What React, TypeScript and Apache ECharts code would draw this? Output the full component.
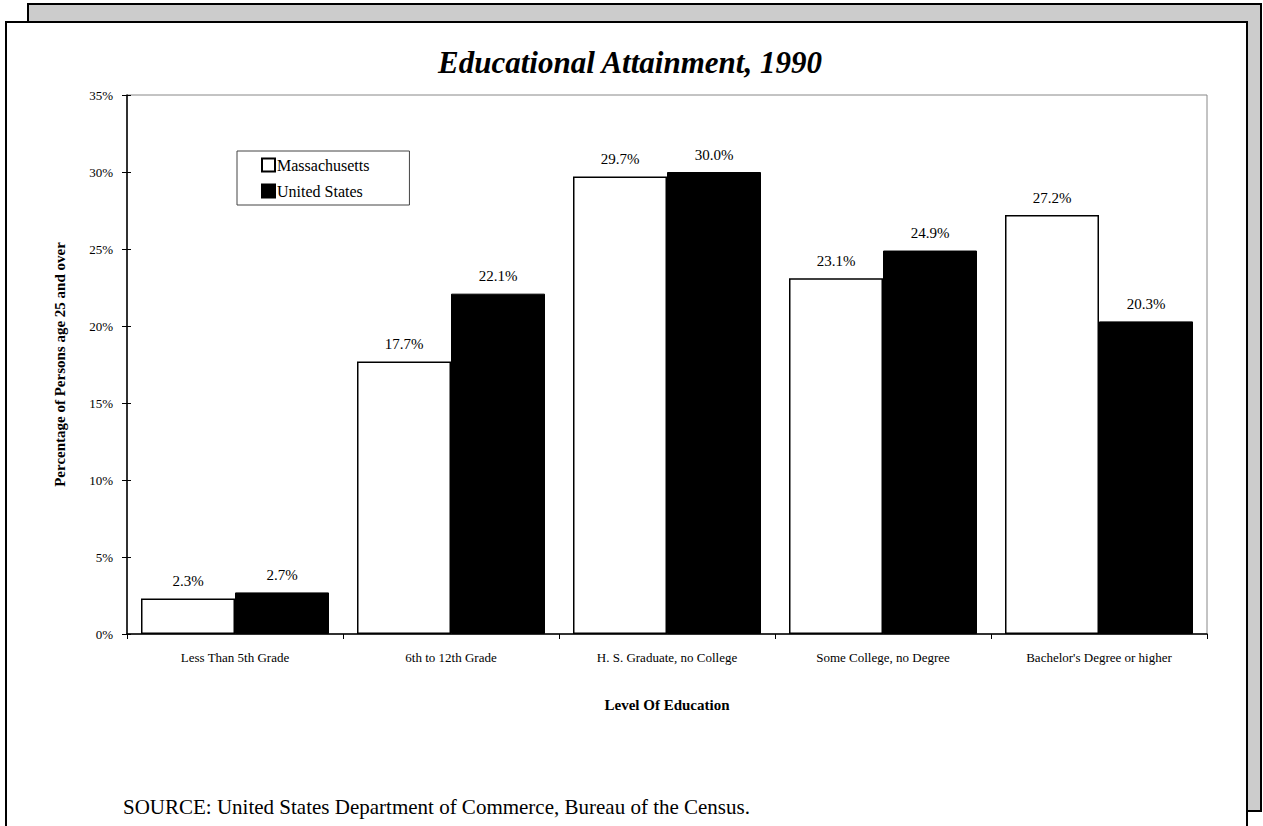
import React, { useEffect, useRef } from "react";
import * as echarts from "echarts";

const categories = [
  "Less Than 5th Grade",
  "6th to 12th Grade",
  "H. S. Graduate, no College",
  "Some College, no Degree",
  "Bachelor's Degree or higher",
];
const massachusetts = [2.3, 17.7, 29.7, 23.1, 27.2];
const unitedStates = [2.7, 22.1, 30.0, 24.9, 20.3];
const seriesNames = ["Massachusetts", "United States"];
const titleText = "Educational Attainment, 1990";
const yAxisTitle = "Percentage of Persons age 25 and over";
const xAxisTitle = "Level Of Education";
const sourceText = "SOURCE: United States Department of Commerce, Bureau of the Census.";

const SERIF = "'Times New Roman', 'Liberation Serif', Times, serif";

export default function App() {
  const ref = useRef<HTMLDivElement>(null);
  useEffect(() => {
    if (!ref.current) return;
    const chart = echarts.init(ref.current, null, { renderer: "svg" });
    const labelStyle = {
      show: true,
      position: "top",
      distance: 10,
      fontFamily: SERIF,
      fontSize: 15,
      color: "#000",
      formatter: (p: any) => Number(p.value).toFixed(1) + "%",
    };
    chart.setOption({
      animation: false,
      backgroundColor: "#fff",
      textStyle: { fontFamily: SERIF },
      graphic: [
        {
          type: "rect",
          z: -10,
          shape: { x: 28, y: 4, width: 1233, height: 807 },
          style: { fill: "#cccccc", stroke: "#000", lineWidth: 2 },
          silent: true,
        },
        {
          type: "rect",
          z: -9,
          shape: { x: 6, y: 22, width: 1241, height: 830 },
          style: { fill: "#ffffff", stroke: "#000", lineWidth: 2 },
          silent: true,
        },
        {
          type: "text",
          x: 123,
          y: 807,
          style: {
            text: sourceText,
            fontFamily: SERIF,
            fontSize: 21,
            fill: "#000",
            verticalAlign: "middle",
          },
        },
      ],
      title: {
        text: titleText,
        left: 625,
        top: 42,
        textAlign: "center",
        textStyle: {
          fontFamily: SERIF,
          fontSize: 31,
          fontWeight: "bold",
          fontStyle: "italic",
          color: "#000",
        },
      },
      legend: {
        data: seriesNames,
        orient: "vertical",
        left: 237,
        top: 151,
        icon: "rect",
        itemWidth: 13,
        itemHeight: 13,
        itemGap: 10,
        padding: [6, 40, 6, 24],
        borderColor: "#444",
        borderWidth: 1,
        backgroundColor: "#fff",
        textStyle: { fontFamily: SERIF, fontSize: 16, color: "#000", padding: [0, 0, 0, -3] },
      },
      grid: {
        left: 127,
        top: 95,
        right: 56,
        bottom: 192,
        show: true,
        borderColor: "#888",
        borderWidth: 1,
        backgroundColor: "#fff",
      },
      xAxis: {
        type: "category",
        data: categories,
        name: xAxisTitle,
        nameLocation: "middle",
        nameGap: 63,
        nameTextStyle: { fontFamily: SERIF, fontSize: 15, fontWeight: "bold", color: "#000" },
        axisLine: { lineStyle: { color: "#000", width: 1.5 } },
        axisTick: { show: true, length: 5, lineStyle: { color: "#000" } },
        axisLabel: { fontFamily: SERIF, fontSize: 13, color: "#000", margin: 17 },
      },
      yAxis: [
        {
          type: "value",
          min: 0,
          max: 35,
          interval: 5,
          name: yAxisTitle,
          nameLocation: "middle",
          nameGap: 60,
          nameTextStyle: { fontFamily: SERIF, fontSize: 15, fontWeight: "bold", color: "#000" },
          axisLine: { show: true, lineStyle: { color: "#000", width: 1.5 } },
          axisTick: { show: true, length: 5, lineStyle: { color: "#000" } },
          axisLabel: { formatter: "{value}%", fontFamily: SERIF, fontSize: 13, color: "#000", margin: 14 },
          splitLine: { show: false },
        },
        {
          type: "value",
          position: "left",
          min: 0,
          max: 35,
          interval: 5,
          axisLine: { show: false },
          axisTick: { show: true, inside: true, length: 4, lineStyle: { color: "#000" } },
          axisLabel: { show: false },
          splitLine: { show: false },
        },
      ],
      series: [
        {
          name: seriesNames[0],
          type: "bar",
          data: massachusetts,
          barWidth: 94,
          barGap: "0%",
          itemStyle: { color: "#ffffff", borderColor: "#000", borderWidth: 1.5 },
          label: labelStyle,
        },
        {
          name: seriesNames[1],
          type: "bar",
          data: unitedStates,
          barWidth: 94,
          barGap: "0%",
          itemStyle: { color: "#000000", borderColor: "#000", borderWidth: 1 },
          label: labelStyle,
        },
      ],
    });
    return () => chart.dispose();
  }, []);
  return (
    <div
      ref={ref}
      style={{ position: "fixed", left: 0, top: 0, width: 1263, height: 826 }}
    />
  );
}
